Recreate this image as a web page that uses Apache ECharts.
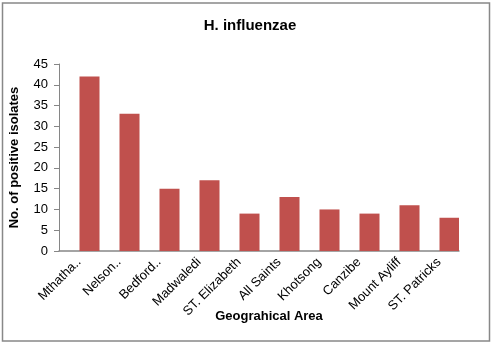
<!DOCTYPE html>
<html>
<head>
<meta charset="utf-8">
<script src="https://cdn.jsdelivr.net/npm/echarts@6/dist/echarts.min.js"></script>
<style>
  html, body { margin: 0; padding: 0; background: #fff; }
  #chart { width: 494px; height: 347px; }
</style>
</head>
<body>
<div id="chart"></div>
<script>
const areas = ["Mthatha..", "Nelson..", "Bedford..", "Madwaledi", "ST. Elizabeth",
    "All Saints", "Khotsong", "Canzibe", "Mount Ayliff", "ST. Patricks"];
const isolates = [42, 33, 15, 17, 9, 13, 10, 9, 11, 8];
const emptySeries = areas.map(() => null);   // Excel left an empty series slot
const yTicks = { min: 0, max: 45, interval: 5 };

const font = "'Liberation Sans', Arial, sans-serif";
const axisGray = "#868686";

const option = {
    animation: false,
    textStyle: { fontFamily: font },
    title: {
        text: "H. influenzae",
        left: 245,
        top: 13,
        textAlign: "center",
        textStyle: { fontFamily: font, fontSize: 15, fontWeight: "bold", color: "#000" }
    },
    grid: { left: 56, right: 35, top: 64, bottom: 96, containLabel: false },
    xAxis: {
        type: "category",
        data: areas,
        name: "Geograhical Area",
        nameLocation: "middle",
        nameGap: 59,
        nameMoveOverlap: false,
        nameTextStyle: { fontFamily: font, fontSize: 13, fontWeight: "bold", color: "#000", padding: [0, 0, 0, 20] },
        axisLine: { lineStyle: { color: axisGray, width: 1.5 } },
        axisTick: { show: false },
        axisLabel: { interval: 0, rotate: 45, margin: 9, fontSize: 13, color: "#000", fontFamily: font }
    },
    yAxis: {
        type: "value",
        min: yTicks.min,
        max: yTicks.max,
        interval: yTicks.interval,
        name: "No. of positive isolates",
        nameLocation: "middle",
        nameGap: 38,
        nameMoveOverlap: false,
        nameTextStyle: { fontFamily: font, fontSize: 13, fontWeight: "bold", color: "#000" },
        axisLine: { show: true, lineStyle: { color: axisGray, width: 1 } },
        axisTick: { show: true, length: 5, lineStyle: { color: axisGray } },
        axisLabel: { margin: 11, fontSize: 13, color: "#000", fontFamily: font },
        splitLine: { show: false }
    },
    series: [
        { type: "bar", data: emptySeries, barWidth: 20, barGap: "5%" },
        { type: "bar", data: isolates, barWidth: 20, barGap: "5%", itemStyle: { color: "#C0504D" } }
    ],
    graphic: [{
        type: "rect",
        shape: { x: 2.5, y: 3, width: 487, height: 338 },
        style: { fill: null, stroke: "#888", lineWidth: 1.5 },
        silent: true
    }]
};

const myChart = echarts.init(document.getElementById("chart"));
myChart.setOption(option);
</script>
</body>
</html>
